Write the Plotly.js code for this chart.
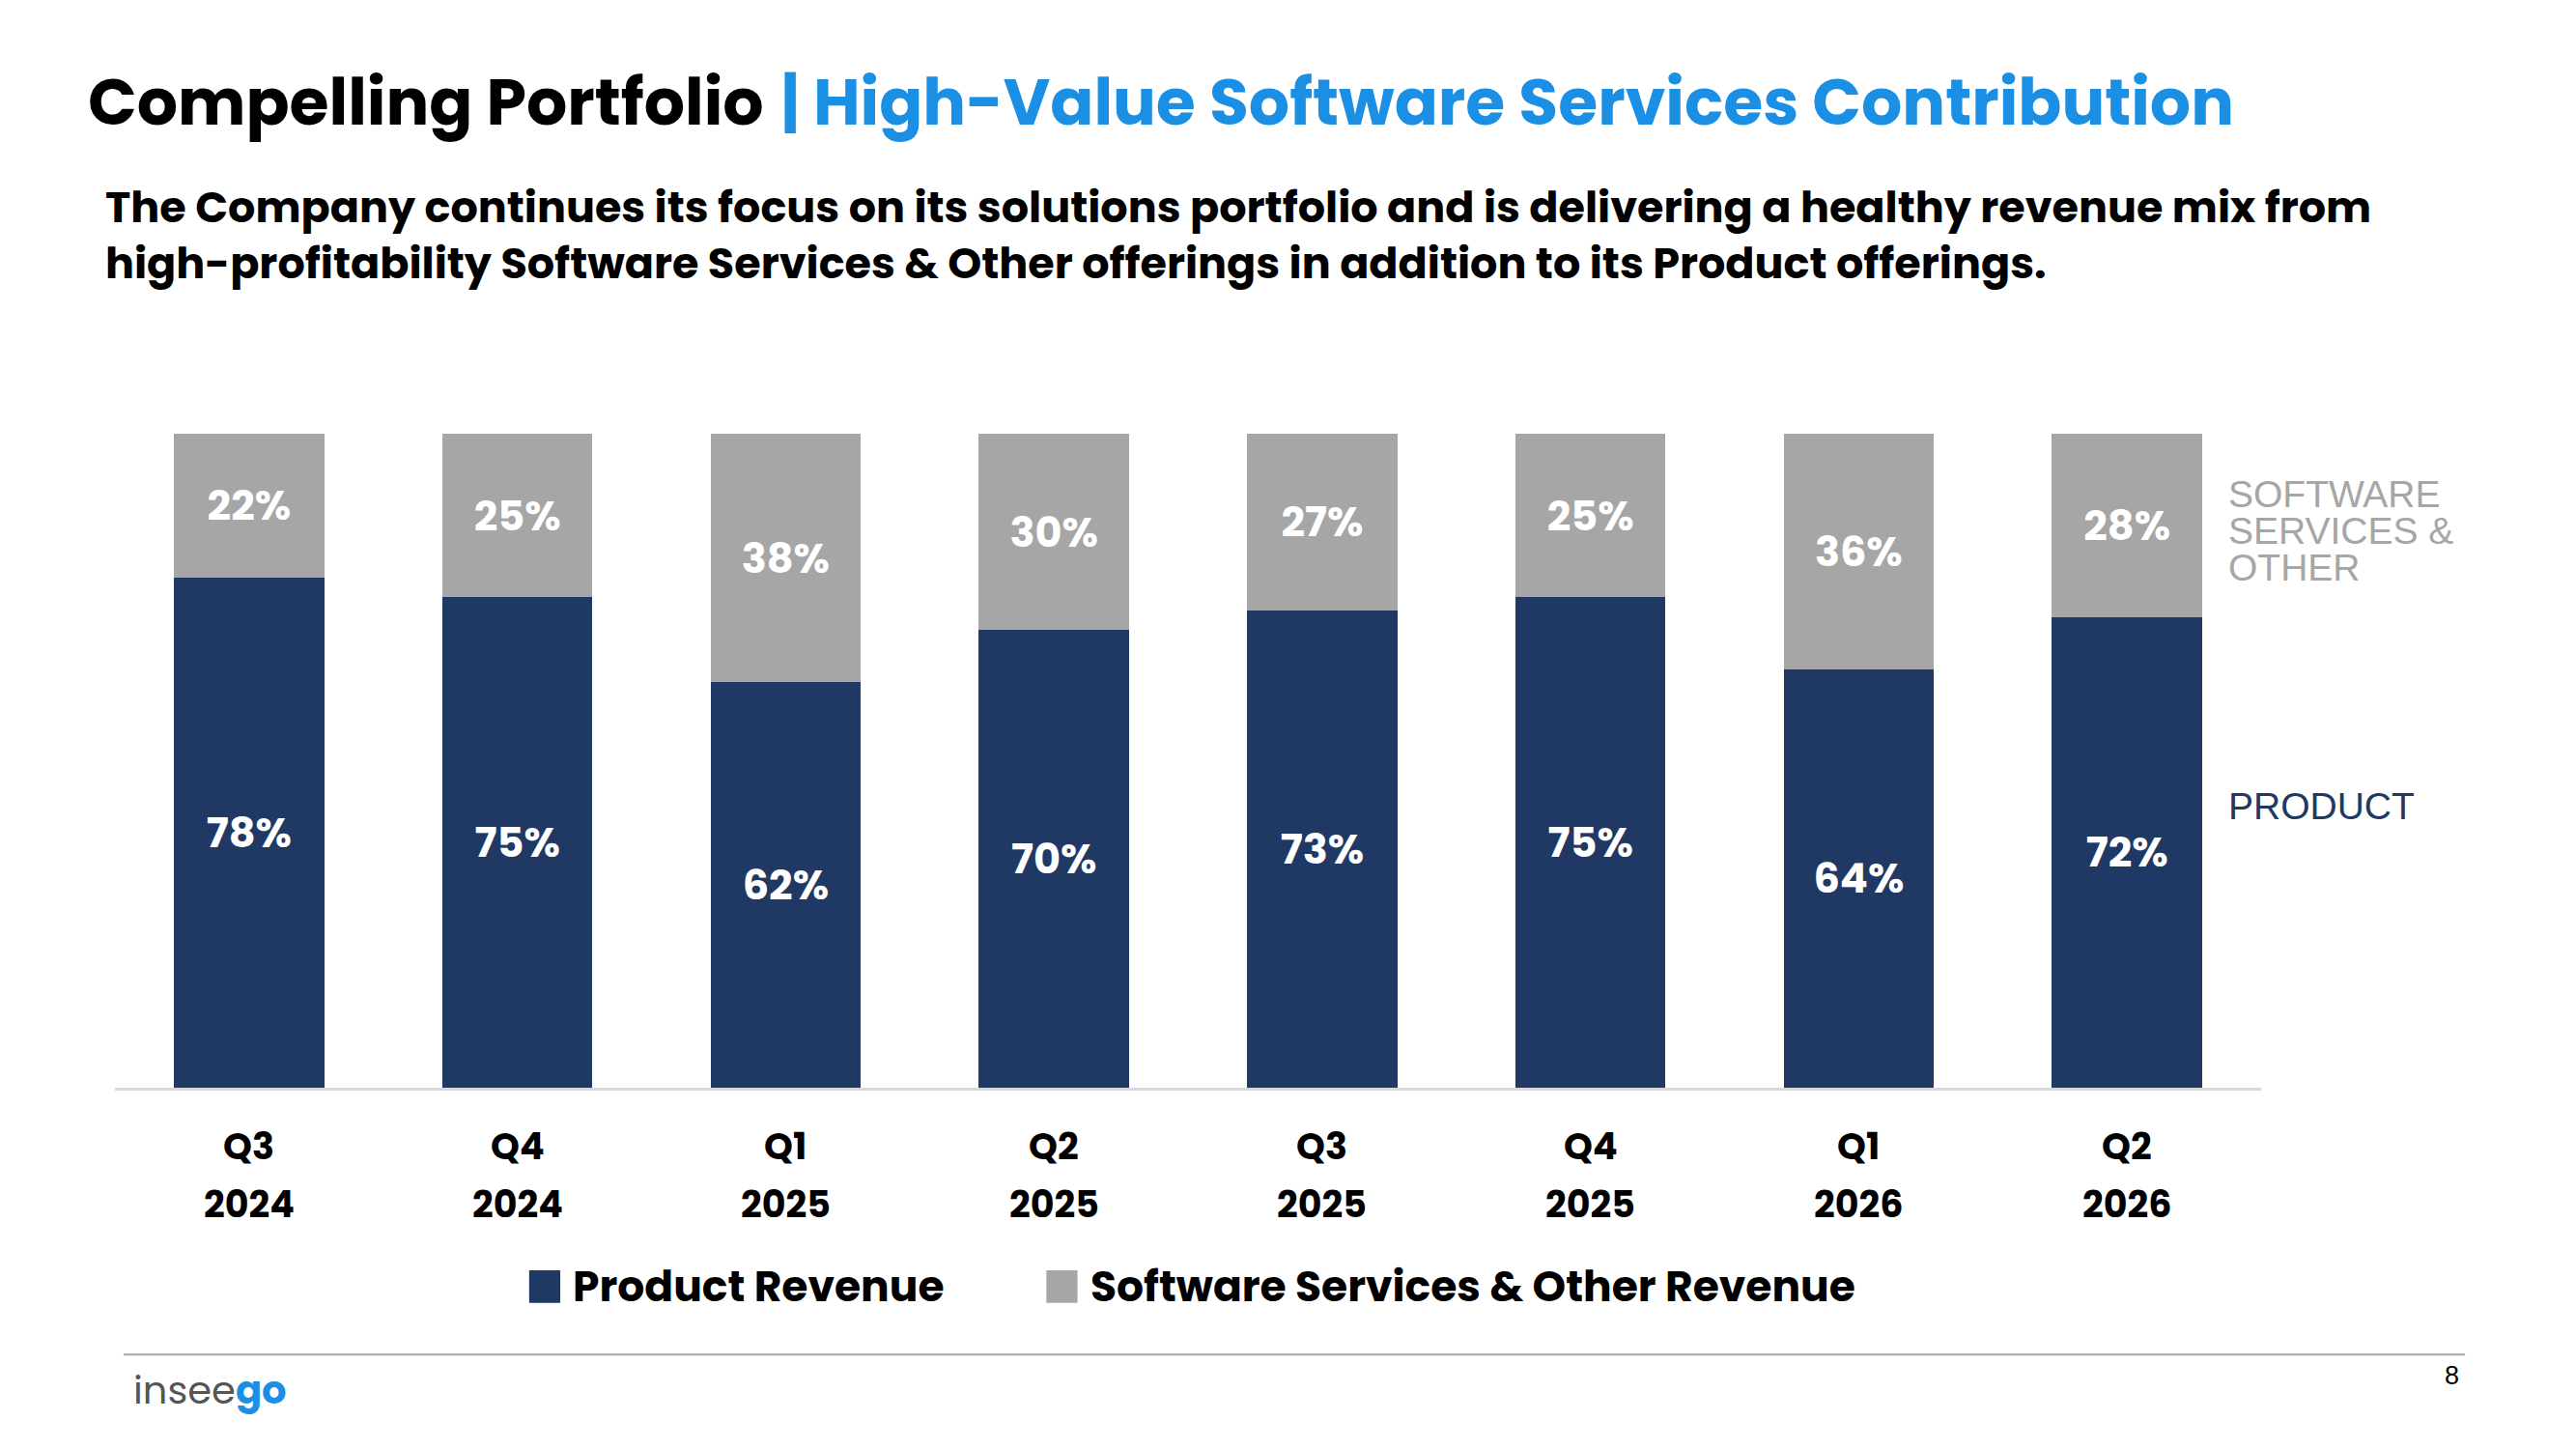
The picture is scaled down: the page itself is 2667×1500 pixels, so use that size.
<!DOCTYPE html>
<html>
<head>
<meta charset="utf-8">
<script src="https://cdn.plot.ly/plotly-3.0.1.min.js"></script>
<style>body{margin:0;background:#fff}#chart{width:2667px;height:1500px}</style>
</head>
<body>
<div id="chart"></div>
<script>
var quarters = ["Q3 2024","Q4 2024","Q1 2025","Q2 2025","Q3 2025","Q4 2025","Q1 2026","Q2 2026"];
var product = [78, 75, 62, 70, 73, 75, 64, 72];
var software = [22, 25, 38, 30, 27, 25, 36, 28];

var navy = "#203864";
var grey = "#a6a6a6";
var blue = "#1a8fe3";
var fam = "Poppins, Lato, 'Open Sans', sans-serif";
var arial = "'Liberation Sans', Arial, sans-serif";

function pct(a){ return a.map(function(v){ return v + "%"; }); }

var lblFont = {color: "#fff", size: 43, family: fam, weight: 700};
var trace1 = {
    x: quarters, y: product, name: "Product Revenue", type: "bar",
    marker: {color: navy}, text: pct(product), textposition: "inside",
    insidetextanchor: "middle", textfont: lblFont
};
var trace2 = {
    x: quarters, y: software, name: "Software Services & Other Revenue", type: "bar",
    marker: {color: grey}, text: pct(software), textposition: "inside",
    insidetextanchor: "middle", textfont: lblFont
};

var annotations = [
    {xref: "paper", yref: "paper", x: -0.0133, y: 1, xanchor: "left", yanchor: "bottom",
     yshift: 295, showarrow: false,
     text: "<b>Compelling Portfolio</b> <b><span style='color:" + blue + "'>| High-Value Software Services Contribution</span></b>",
     font: {size: 66.5, color: "#000"}},
    {xref: "paper", yref: "paper", x: -0.0054, y: 1, xanchor: "left", yanchor: "bottom",
     yshift: 143, showarrow: false, align: "left",
     text: "<b>The Company continues its focus on its solutions portfolio and is delivering a healthy revenue mix from<br>high-profitability Software Services &amp; Other offerings in addition to its Product offerings.</b>",
     font: {size: 44.5, color: "#000"}},
    {xref: "paper", yref: "paper", x: 0.0077, y: -0.462, xanchor: "left", yanchor: "middle",
     showarrow: false, text: "insee<b><span style='color:" + blue + "'>go</span></b>",
     font: {size: 40, color: "#555", family: fam}},
    {xref: "paper", yref: "paper", x: 1.089, y: -0.44, xanchor: "center", yanchor: "middle",
     showarrow: false, text: "8", font: {size: 27, color: "#000", family: arial}}
];

var sideLines = ["SOFTWARE", "SERVICES &amp;", "OTHER"];
var sideY = [0.907, 0.852, 0.796];
for (var i = 0; i < sideLines.length; i++) {
    annotations.push({xref: "paper", yref: "paper", x: 0.984, y: sideY[i], xanchor: "left", yanchor: "middle",
        showarrow: false, text: sideLines[i], font: {size: 39, color: grey, family: arial}});
}
annotations.push({xref: "paper", yref: "paper", x: 0.984, y: 0.43, xanchor: "left", yanchor: "middle",
    showarrow: false, text: "PRODUCT", font: {size: 39, color: navy, family: arial}});

quarters.forEach(function(q){
    var parts = q.split(" ");
    annotations.push({xref: "x", yref: "paper", x: q, y: -0.09, yanchor: "middle", showarrow: false,
        text: "<b>" + parts[0] + "</b>", font: {size: 38, color: "#000", family: fam}});
    annotations.push({xref: "x", yref: "paper", x: q, y: -0.178, yanchor: "middle", showarrow: false,
        text: "<b>" + parts[1] + "</b>", font: {size: 38, color: "#000", family: fam}});
});

// legend drawn by hand for large square swatches
var legendNames = [trace1.name, trace2.name];
var legendColors = [navy, grey];
var legendX = [0.193, 0.434];
var shapes = [
    {type: "line", xref: "paper", yref: "paper", x0: 0.004, x1: 1.095, y0: -0.408, y1: -0.408,
     line: {color: "#a6a6a6", width: 2}}
];
for (var k = 0; k < legendNames.length; k++) {
    shapes.push({type: "rect", xref: "paper", yref: "paper", x0: legendX[k], x1: legendX[k] + 0.0145,
        y0: -0.329, y1: -0.279, fillcolor: legendColors[k], line: {width: 0}});
    annotations.push({xref: "paper", yref: "paper", x: legendX[k] + 0.0195, y: -0.304,
        xanchor: "left", yanchor: "middle", showarrow: false,
        text: "<b>" + legendNames[k].replace("&", "&amp;") + "</b>", font: {size: 44, color: "#000", family: fam}});
}

var layout = {
    width: 2667, height: 1500,
    barmode: "stack", bargap: 0.44,
    paper_bgcolor: "#fff", plot_bgcolor: "#fff",
    margin: {l: 119, r: 326, t: 449, b: 374},
    font: {family: fam, color: "#000"},
    showlegend: false,
    xaxis: {showline: true, linecolor: "#d9d9d9", linewidth: 3, ticks: "", showticklabels: false},
    yaxis: {range: [0, 100], visible: false, showgrid: false},
    annotations: annotations,
    shapes: shapes
};

Plotly.newPlot("chart", [trace1, trace2], layout, {displayModeBar: false});
</script>
</body>
</html>
